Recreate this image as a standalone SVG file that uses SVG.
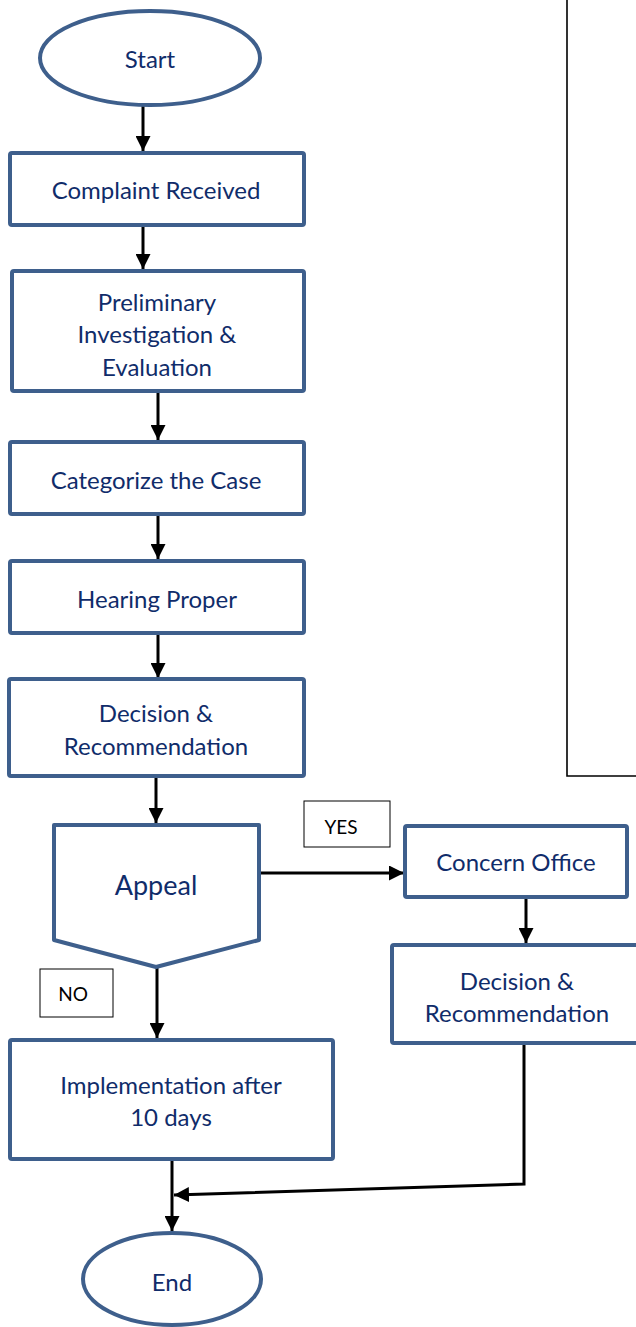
<svg xmlns="http://www.w3.org/2000/svg" width="636" height="1327" viewBox="0 0 636 1327">
<style>
.n{fill:#fff;stroke:#3E5F8C;stroke-width:4;stroke-linejoin:round}
.t{font-family:Lato,"Open Sans","Liberation Sans",sans-serif;font-size:24px;fill:#102C6A;text-anchor:middle;dominant-baseline:central}
.lb{fill:#fff;stroke:#000;stroke-width:1}
.lt{font-family:Lato,"Liberation Sans",sans-serif;font-size:19px;fill:#000;text-anchor:middle;dominant-baseline:central}
.c{fill:none;stroke:#000;stroke-width:3}
</style>
<defs>
<marker id="ah" viewBox="0 0 10 10" refX="10" refY="5" markerWidth="5" markerHeight="5" orient="auto" markerUnits="strokeWidth">
<path d="M0,0 L10,5 L0,10 Z" fill="#000"/>
</marker>
</defs>
<rect width="636" height="1327" fill="#fff"/>
<g id="panel">
<polyline points="567,0 567,776 636,776" fill="none" stroke="#000" stroke-width="1.6"/>
</g>
<g id="connectors">
<line class="c" x1="143" y1="106" x2="143" y2="151" marker-end="url(#ah)"/>
<line class="c" x1="143" y1="225" x2="143" y2="269" marker-end="url(#ah)"/>
<line class="c" x1="158" y1="391" x2="158" y2="440" marker-end="url(#ah)"/>
<line class="c" x1="158" y1="515" x2="158" y2="559" marker-end="url(#ah)"/>
<line class="c" x1="158" y1="634" x2="158" y2="678" marker-end="url(#ah)"/>
<line class="c" x1="156" y1="776" x2="156" y2="823" marker-end="url(#ah)"/>
<line class="c" x1="260" y1="873" x2="404" y2="873" marker-end="url(#ah)"/>
<line class="c" x1="526" y1="897" x2="526" y2="943" marker-end="url(#ah)"/>
<line class="c" x1="157" y1="967" x2="157" y2="1038" marker-end="url(#ah)"/>
<line class="c" x1="172" y1="1159" x2="172" y2="1231" marker-end="url(#ah)"/>
<polyline class="c" points="524,1043 524,1184 174,1195" marker-end="url(#ah)"/>
</g>
<g id="start">
<ellipse class="n" cx="150" cy="58" rx="110" ry="47"/>
<text class="t" x="150" y="58">Start</text>
</g>
<g id="complaint">
<rect class="n" x="10" y="153" width="294" height="72" rx="2"/>
<text class="t" x="156" y="189">Complaint Received</text>
</g>
<g id="preliminary">
<rect class="n" x="12" y="271" width="292" height="120" rx="2"/>
<text class="t" x="157" y="301">Preliminary</text>
<text class="t" x="157" y="333">Investigation &amp;</text>
<text class="t" x="157" y="366">Evaluation</text>
</g>
<g id="categorize">
<rect class="n" x="10" y="442" width="294" height="72" rx="2"/>
<text class="t" x="156" y="479">Categorize the Case</text>
</g>
<g id="hearing">
<rect class="n" x="10" y="561" width="294" height="72" rx="2"/>
<text class="t" x="157" y="598">Hearing Proper</text>
</g>
<g id="decision1">
<rect class="n" x="9" y="679" width="295" height="97" rx="2"/>
<text class="t" x="156" y="712">Decision &amp;</text>
<text class="t" x="156" y="745">Recommendation</text>
</g>
<g id="appeal">
<polygon class="n" points="54,825 259,825 259,940 156,967 54,940"/>
<text class="t" x="156" y="884" style="font-size:27px">Appeal</text>
</g>
<g id="yes">
<rect class="lb" x="304" y="801" width="86" height="46"/>
<text class="lt" x="341" y="826">YES</text>
</g>
<g id="no">
<rect class="lb" x="40" y="969" width="73" height="48"/>
<text class="lt" x="73" y="993">NO</text>
</g>
<g id="concern">
<rect class="n" x="405" y="826" width="222" height="71" rx="2"/>
<text class="t" x="516" y="861">Concern Office</text>
</g>
<g id="decision2">
<rect class="n" x="392" y="945" width="260" height="98" rx="2"/>
<text class="t" x="517" y="980">Decision &amp;</text>
<text class="t" x="517" y="1012">Recommendation</text>
</g>
<g id="implementation">
<rect class="n" x="10" y="1040" width="323" height="119" rx="2"/>
<text class="t" x="171" y="1084">Implementation after</text>
<text class="t" x="171" y="1116">10 days</text>
</g>
<g id="end">
<ellipse class="n" cx="172" cy="1279" rx="89" ry="46"/>
<text class="t" x="172" y="1281">End</text>
</g>
</svg>
